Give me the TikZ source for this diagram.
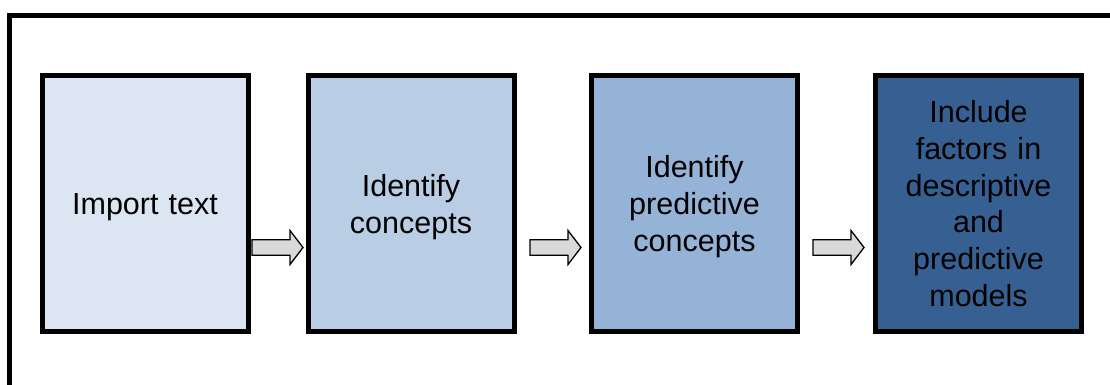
\documentclass[tikz,border=0pt]{standalone}
\usepackage{fontspec}
\setmainfont{Liberation Sans}
\definecolor{boxa}{HTML}{DCE6F2}
\definecolor{boxb}{HTML}{B9CDE5}
\definecolor{boxc}{HTML}{95B3D7}
\definecolor{boxd}{HTML}{376092}
\definecolor{arrowgray}{HTML}{D9D9D9}
\newcommand\blockarr[1]{\draw[blockarrow] (#1) ++(0,-7.75) -- ++(38,0) -- ++(0,-9.25) -- ++(13,17) -- ++(-13,17) -- ++(0,-9.25) -- ++(-38,0) -- cycle;}
\begin{document}
\begin{tikzpicture}[x=1pt,y=-1pt,
  stage/.style={draw=black, line width=5pt, minimum width=206pt, minimum height=256pt,
    inner sep=0pt},
  stagetext/.style={inner sep=0pt, align=center, text width=200pt, font=\fontsize{30.5}{36.7}\selectfont},
  blockarrow/.style={draw=black, line width=1.3pt, fill=arrowgray, line join=miter}]
\useasboundingbox (0,0) rectangle (1110,385);
\fill[white] (0,0) rectangle (1110,385);
\draw[line width=5pt] (9.5,385) -- (9.5,15.5) -- (1110,15.5);
\node[stage, fill=boxa] (b1) at (145,203.5) {};
\node[stage, fill=boxb] (b2) at (411,203.5) {};
\node[stage, fill=boxc] (b3) at (694.5,203.5) {};
\node[stage, fill=boxd] (b4) at (978.5,203.5) {};
\node[stagetext] (t1) at ([yshift=-4pt]b1.center) {Import text};
\node[stagetext] (t2) at ([yshift=-3.5pt]b2.center) {Identify\\concepts};
\node[stagetext] (t3) at ([yshift=-3pt]b3.center) {Identify\\predictive\\concepts};
\node[stagetext] (t4) at (b4.center) {Include\\factors in\\descriptive\\and\\predictive\\models};
\coordinate (a1) at (252,247.5);
\coordinate (a2) at (530,247.5);
\coordinate (a3) at (813,247.5);
\blockarr{a1}
\blockarr{a2}
\blockarr{a3}
\end{tikzpicture}
\end{document}
